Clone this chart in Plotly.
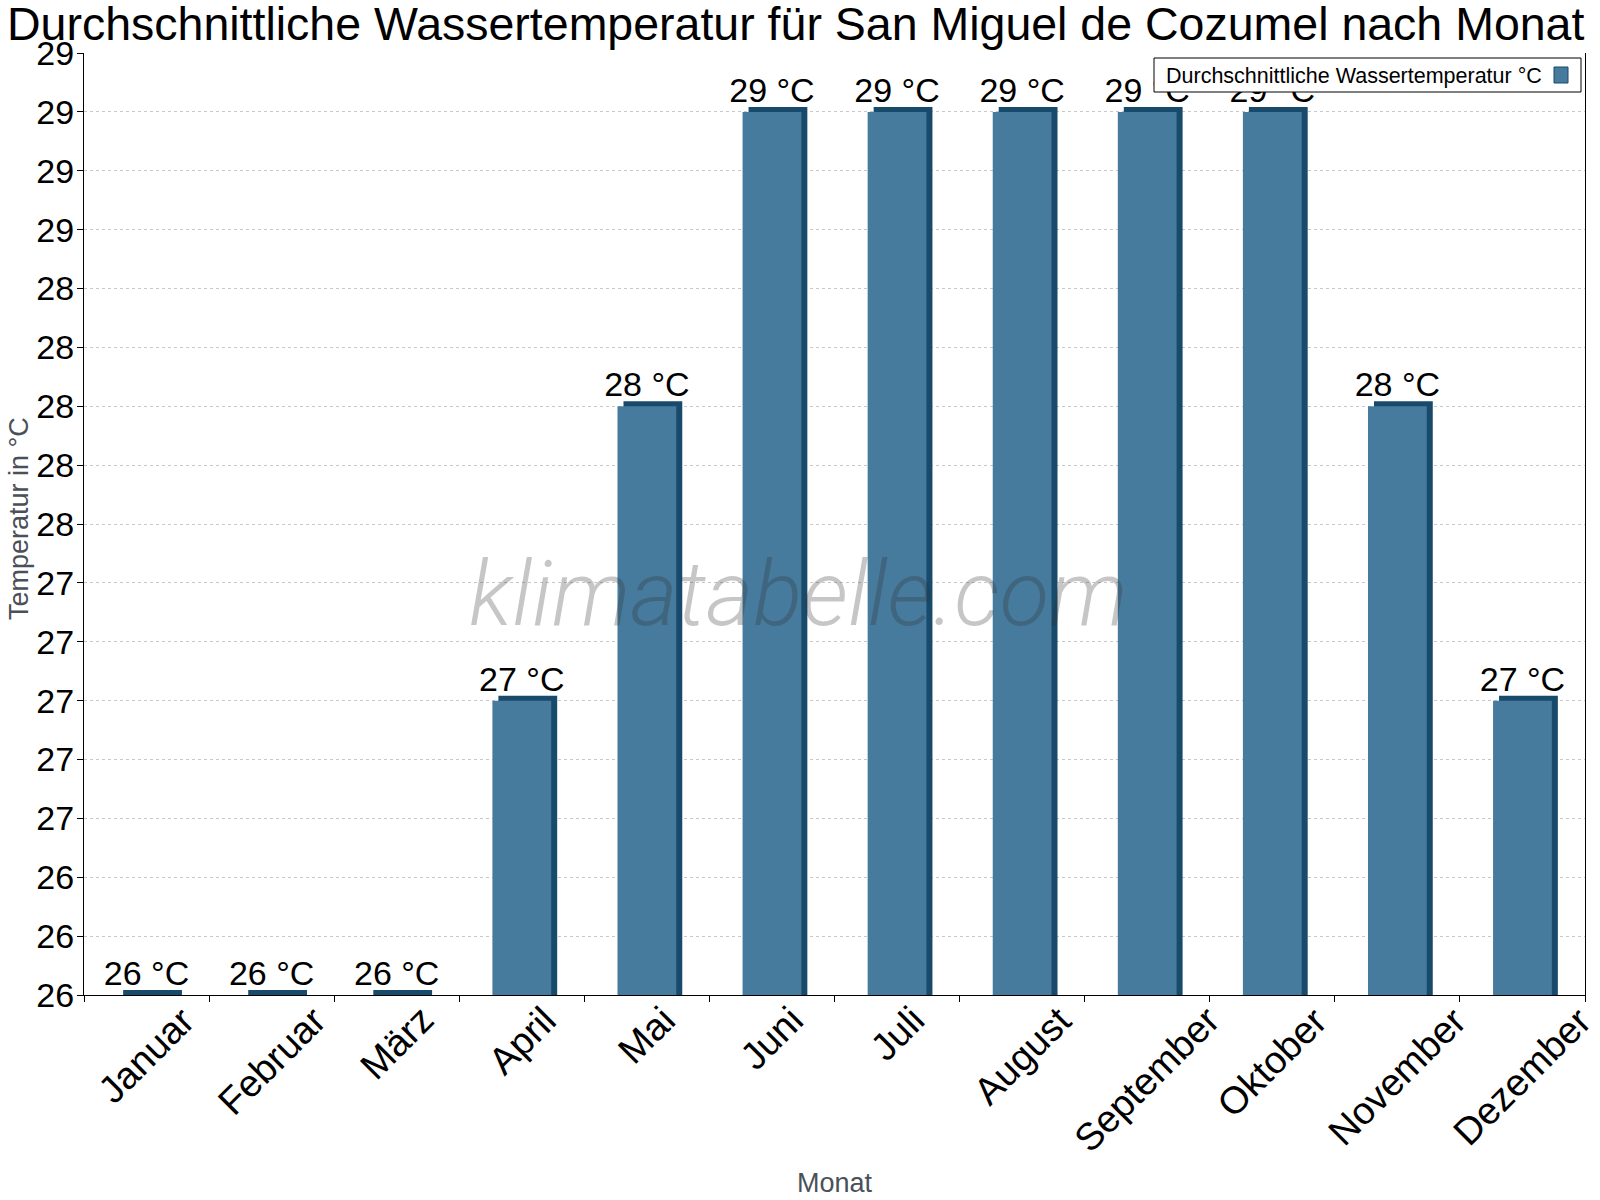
import plotly.graph_objects as go

# ---------------- data ----------------
months = ["Januar", "Februar", "März", "April", "Mai", "Juni", "Juli",
          "August", "September", "Oktober", "November", "Dezember"]
water_temp = [26, 26, 26, 27, 28, 29, 29, 29, 29, 29, 28, 27]
y_min = 26.0
y_max = 29.2
y_step = 0.2
series_name = "Durchschnittliche Wassertemperatur °C"
title_text = "Durchschnittliche Wassertemperatur für San Miguel de Cozumel nach Monat"
x_title = "Monat"
y_title = "Temperatur in °C"

# ---------------- layout constants ----------------
W, H = 1600, 1200
L, R, T, B = 84, 15, 53, 205
PW = W - L - R
PH = H - T - B
FRONT = "#467b9d"
DARK = "#184a6b"
AXIS_TITLE = "#4a5059"
FONT = "Liberation Sans, Arial, sans-serif"
bar_w = 0.47
cap = 5 * (y_max - y_min) / PH          # 5 px top cap in data units
side = 6 / (PW / len(months))           # 6 px side face in category units


def px_x(p):
    return (p - L) / PW


def px_y(p):
    return (H - B - p) / PH


fig = go.Figure()
# dark "3D" back face (top cap + right side)
fig.add_trace(go.Bar(
    x=months, y=[v + cap for v in water_temp], width=bar_w,
    offset=-bar_w / 2 + side, marker=dict(color=DARK, line=dict(width=0)),
    showlegend=False, hoverinfo="skip"))
# front face with value labels
fig.add_trace(go.Bar(
    x=months, y=water_temp, width=bar_w, offset=-bar_w / 2,
    marker=dict(color=FRONT, line=dict(width=0)),
    text=[f"{v} °C" for v in water_temp], textposition="outside",
    textfont=dict(size=34, color="black", family=FONT), constraintext="none",
    name=series_name, showlegend=False))

fig.update_layout(
    width=W, height=H,
    margin=dict(l=L, r=R, t=T, b=B, autoexpand=False),
    barmode="overlay",
    plot_bgcolor="white", paper_bgcolor="white",
    font=dict(family=FONT, color="black"),
    showlegend=False,
    title=dict(text=title_text, xref="container", x=7 / W, xanchor="left",
               yref="container", y=1 - 24 / H, yanchor="middle",
               font=dict(size=46.5, color="black", family=FONT)),
)

fig.update_xaxes(
    type="category", range=[-0.5, len(months) - 0.5],
    showline=True, linecolor="black", linewidth=1,
    ticks="outside", tickson="boundaries", ticklen=6, tickcolor="black",
    showticklabels=False, showgrid=False, zeroline=False,
    title=dict(text=x_title, font=dict(size=27, color=AXIS_TITLE, family=FONT),
               standoff=178),
)
fig.update_yaxes(
    range=[y_min, y_max], tick0=y_min, dtick=y_step, tickformat=".0f",
    showline=True, mirror=True, linecolor="black", linewidth=1,
    ticks="outside", ticklen=6, tickcolor="black", ticklabelstandoff=-4,
    tickfont=dict(size=34, color="black", family=FONT),
    showgrid=True, gridcolor="#c8c8c8", griddash="dot", gridwidth=1,
    zeroline=False,
)

annotations = []
# rotated month labels (centered under each category)
for m in months:
    annotations.append(dict(
        x=m, xref="x", y=px_y(996), yref="paper", text=m, showarrow=False,
        xanchor="center", yanchor="top", textangle=-45,
        font=dict(size=38, color="black", family=FONT)))

# y axis title
annotations.append(dict(
    x=px_x(19), xref="paper", y=px_y(519), yref="paper",
    text=y_title, showarrow=False, textangle=-90,
    xanchor="center", yanchor="middle",
    font=dict(size=27, color=AXIS_TITLE, family=FONT)))

# watermark
annotations.append(dict(
    x=px_x(798), y=px_y(594), xref="paper", yref="paper",
    text="klimatabelle.com", showarrow=False, xanchor="center", yanchor="middle",
    font=dict(size=91, color="rgba(50,50,50,0.28)", family="Roboto",
              style="italic", weight=300)))

# legend text
annotations.append(dict(
    x=px_x(1164), y=px_y(75.5), xref="paper", yref="paper",
    text=series_name, showarrow=False, xanchor="left", yanchor="middle",
    font=dict(size=21.5, color="black", family=FONT)))

fig.update_layout(annotations=annotations)

fig.update_layout(shapes=[
    dict(type="rect", xref="paper", yref="paper", layer="above",
         x0=px_x(1154), x1=px_x(1581), y0=px_y(92), y1=px_y(58),
         fillcolor="white", line=dict(color="black", width=1)),
    dict(type="rect", xref="paper", yref="paper", layer="above",
         x0=px_x(1554), x1=px_x(1568), y0=px_y(83), y1=px_y(67),
         fillcolor=FRONT, line=dict(color=DARK, width=1)),
])

fig.write_html("out.html")
